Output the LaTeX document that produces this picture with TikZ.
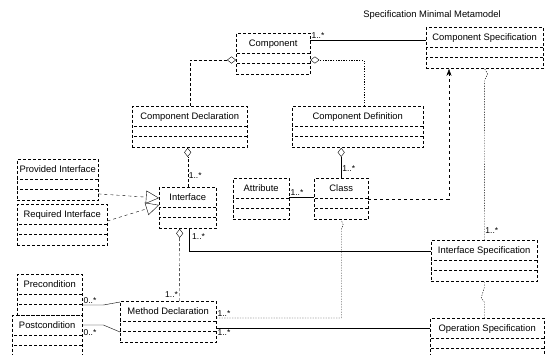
\documentclass[tikz,border=0pt]{standalone}
\usepackage{fontspec}
\setmainfont{Liberation Sans}
\usetikzlibrary{arrows.meta,positioning,shapes.multipart}
\newcommand{\umlcls}[1]{\rule[-5pt]{0pt}{16pt}#1\nodepart{two}\nodepart{three}\rule{0pt}{7pt}}

\begin{document}
\begin{tikzpicture}[
  x=1pt, y=-1pt,
  font=\fontsize{9.4}{11}\selectfont,
  cls/.style={draw, densely dashed, rectangle split, rectangle split parts=3, anchor=north west,
    inner xsep=2pt, inner ysep=2pt, rectangle split empty part height=2pt},
  mult/.style={font=\fontsize{8.5}{9}\selectfont, inner sep=1pt},
  agg/.style={densely dashed, -{Diamond[open,length=9pt,width=7pt]}},
  real/.style={dashed, -{Triangle[open,length=13pt,width=13pt]}},
  dep/.style={dashed, -{Stealth[length=7pt,width=5pt]}},
  link/.style={dash pattern=on 1.3pt off 1.3pt},
]
\useasboundingbox (0,0) rectangle (545,354);
% title
\node (title) at (432,15) {Specification Minimal Metamodel};
% classes
\node[cls, minimum width=74pt] (comp) at (236,33) {\umlcls{Component}};
\node[cls, minimum width=117pt] (cspec) at (426,27) {\umlcls{Component Specification}};
\node[cls, minimum width=115pt] (cdecl) at (132,106) {\umlcls{Component Declaration}};
\node[cls, minimum width=131pt] (cdef) at (292,106) {\umlcls{Component Definition}};
\node[cls, minimum width=81pt] (prov) at (17,159) {\umlcls{Provided Interface}};
\node[cls, minimum width=90pt] (req) at (17,204) {\umlcls{Required Interface}};
\node[cls, minimum width=57pt] (iface) at (159,187) {\umlcls{Interface}};
\node[cls, minimum width=56pt] (attr) at (233,178) {\umlcls{Attribute}};
\node[cls, minimum width=54pt] (class) at (314,178) {\umlcls{Class}};
\node[cls, minimum width=106pt] (ispec) at (431,240) {\umlcls{Interface Specification}};
\node[cls, minimum width=65pt] (pre) at (17,274) {\umlcls{Precondition}};
\node[cls, minimum width=70pt] (post) at (12,315) {\umlcls{Postcondition}};
\node[cls, minimum width=96pt] (meth) at (120,301) {\umlcls{Method Declaration}};
\node[cls, minimum width=114pt] (opspec) at (430,318) {\umlcls{Operation Specification}};
% component side
\draw ([yshift=-7pt]comp.north east) node[mult, above right] {1..*} -- ([yshift=-13pt]cspec.north west);
\draw[agg] (cdecl.north) |- ([yshift=-27pt]comp.north west);
\draw[agg, link] ([xshift=6pt]cdef.north) |- ([yshift=-27pt]comp.north east);
\draw[agg] (iface.north) -- (iface.north |- cdecl.south) node[mult, pos=0.3, right] {1..*};
\draw[-{Diamond[open,length=9pt,width=7pt]}] (class.north) -- (class.north |- cdef.south)
  node[mult, pos=0.3, right] {1..*};
% interfaces
\draw[real] ([yshift=7pt]prov.south east) -- ([yshift=-11pt]iface.north west);
\draw[real] ([yshift=-17pt]req.north east) -- ([yshift=-18pt]iface.north west);
\draw ([yshift=-19pt]attr.north east) node[mult, above right] {1..*} -- ([yshift=-19pt]class.north west);
\draw[dep] ([yshift=-21pt]class.north east) -| ([xshift=23pt]cspec.south west);
% specifications
\draw[link] (cspec.south) -- ++(3,5) -- ++(-3,6) -- (ispec.north) node[mult, pos=0.94, right] {1..*};
\draw ([xshift=30pt]iface.south west) node[mult, below right, xshift=2pt, yshift=-4pt] {1..*}
  |- ([yshift=-11pt]ispec.north west);
\draw[link] (ispec.south) -- ++(0,6) -- ++(-3,10) -- ++(3,4) -- (ispec.south |- opspec.north);
% methods
\draw[agg] ([xshift=11pt]meth.north) node[mult, above left, yshift=2pt] {1..*} -- ([xshift=-8pt]iface.south);
\draw[link] ([yshift=-17pt]meth.north east) node[mult, above right] {1..*}
  -| ([yshift=-9pt]class.south) -- ++(2,-4) -- (class.south);
\draw ([yshift=-27pt]meth.north east) node[mult, below right] {1..*} -- ([yshift=-10pt]opspec.north west);
\draw ([yshift=-31pt]pre.north east) node[mult, above right] {0..*} -- ++(21,0) -- ([yshift=-1pt]meth.north west);
\draw ([yshift=-10pt]post.north east) node[mult, below right, yshift=-3pt] {0..*} -- ++(21,0)
  -- ([yshift=-31pt]meth.north west);
\end{tikzpicture}
\end{document}
